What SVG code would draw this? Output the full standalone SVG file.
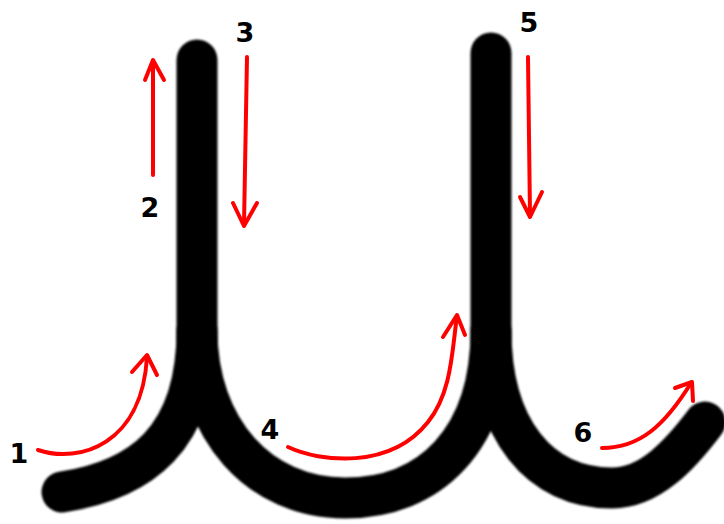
<svg xmlns="http://www.w3.org/2000/svg" width="724" height="524" viewBox="0 0 724 524">
<defs>
<filter id="soft" x="-10%" y="-10%" width="120%" height="120%"><feGaussianBlur stdDeviation="1.3"/></filter>
<style>
.blk{fill:none;stroke:#000;stroke-width:41;stroke-linecap:round;stroke-linejoin:round}
.red{fill:none;stroke:#ff0000;stroke-width:4;stroke-linecap:round;stroke-linejoin:round}
.lbl{font-family:"DejaVu Sans","Liberation Sans",sans-serif;font-weight:bold;font-size:27px;fill:#000;text-anchor:middle}
</style>
</defs>
<rect width="724" height="524" fill="#fff"/>
<g id="shape" filter="url(#soft)">
<path class="blk" d="M197 60 V340"/>
<path class="blk" d="M491 53 V340"/>
<path class="blk" d="M197 330 C197 440 140 480 62 492"/>
<path class="blk" d="M197 330 C197 430 260 498 345 498 C430 498 491 440 491 330"/>
<path class="blk" d="M491 330 C491 430 540 488 612 488 C650 488 680 455 705 422"/>
</g>
<g id="connectors">
<g id="a1"><path class="red" d="M38 450 C80 464 142 444 147 357"/><path class="red" d="M132 372 L147 355 L157 375"/></g>
<g id="a2"><path class="red" d="M153 175 V61"/><path class="red" d="M145 80 L153 60 L164 80"/></g>
<g id="a3"><path class="red" d="M247 57 L244 225"/><path class="red" d="M233 203 L244 226 L257 203"/></g>
<g id="a4"><path class="red" d="M288 447 C320 462 390 470 428 422 C452 392 452 350 457 316"/><path class="red" d="M443 337 L457 315 L465 335"/></g>
<g id="a5"><path class="red" d="M528 57 L530 216"/><path class="red" d="M520 197 L530 217 L542 192"/></g>
<g id="a6"><path class="red" d="M602 448 C640 448 665 425 691 383"/><path class="red" d="M675 388 L692 382 L693 401"/></g>
</g>
<g id="labels">
<text class="lbl" x="19" y="463">1</text>
<text class="lbl" x="150" y="217">2</text>
<text class="lbl" x="245" y="42">3</text>
<text class="lbl" x="270" y="439">4</text>
<text class="lbl" x="529" y="32">5</text>
<text class="lbl" x="583" y="442">6</text>
</g>
</svg>
